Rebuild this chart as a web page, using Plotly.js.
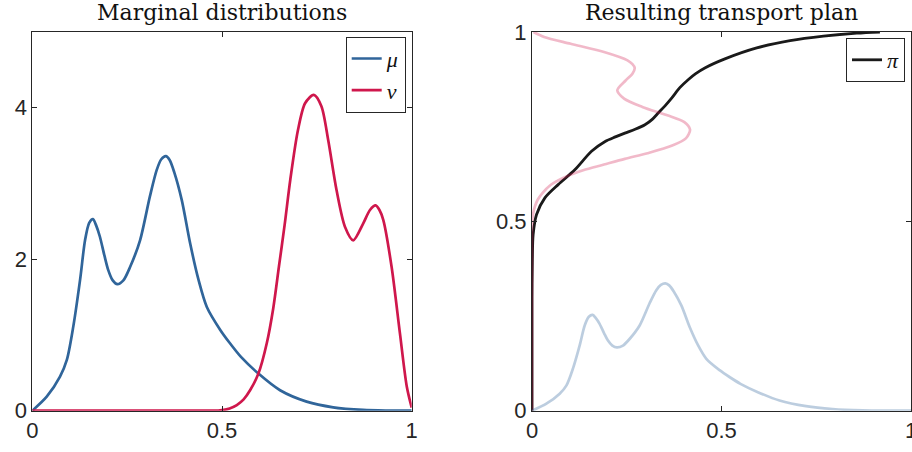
<!DOCTYPE html>
<html>
<head>
<meta charset="utf-8">
<script src="https://cdn.plot.ly/plotly-3.0.1.min.js"></script>
<style>html,body{margin:0;padding:0;background:#fff;}#chart{width:912px;height:452px;}</style>
</head>
<body>
<div id="chart"></div>
<script>
// Marginal density mu (blue)
const muX = [0, 0.038, 0.073, 0.091, 0.108, 0.126, 0.139, 0.150, 0.160, 0.168, 0.178, 0.190, 0.200, 0.212, 0.224, 0.240, 0.258, 0.284, 0.310, 0.328, 0.340, 0.352, 0.362, 0.374, 0.394, 0.416, 0.438, 0.460, 0.495, 0.521, 0.550, 0.596, 0.653, 0.723, 0.793, 0.872, 0.940, 1.000];
const muY = [0, 0.185, 0.45, 0.67, 1.11, 1.73, 2.25, 2.48, 2.53, 2.45, 2.30, 2.05, 1.86, 1.72, 1.67, 1.72, 1.90, 2.25, 2.83, 3.18, 3.32, 3.36, 3.31, 3.15, 2.78, 2.21, 1.73, 1.37, 1.07, 0.89, 0.71, 0.49, 0.27, 0.12, 0.045, 0.01, 0.002, 0];
// Marginal density nu (red)
const nuX = [0, 0.450, 0.495, 0.520, 0.539, 0.557, 0.574, 0.596, 0.618, 0.635, 0.650, 0.665, 0.680, 0.700, 0.719, 0.742, 0.762, 0.780, 0.802, 0.824, 0.846, 0.872, 0.890, 0.905, 0.915, 0.925, 0.947, 0.969, 0.987, 1.000];
const nuY = [0, 0, 0.005, 0.03, 0.075, 0.15, 0.27, 0.49, 0.89, 1.35, 1.90, 2.45, 3.05, 3.70, 4.06, 4.17, 4.02, 3.57, 2.91, 2.43, 2.25, 2.47, 2.65, 2.71, 2.65, 2.52, 1.90, 1.02, 0.32, 0.04];
// Transport plan pi (support of monotone map)
const piX = [0, 0, 0.001, 0.003, 0.012, 0.034, 0.069, 0.113, 0.157, 0.193, 0.220, 0.245, 0.272, 0.298, 0.318, 0.333, 0.351, 0.369, 0.390, 0.412, 0.432, 0.456, 0.509, 0.593, 0.681, 0.769, 0.857, 0.918];
const piY = [0, 0.30, 0.40, 0.465, 0.518, 0.562, 0.597, 0.636, 0.685, 0.711, 0.723, 0.733, 0.743, 0.755, 0.770, 0.786, 0.805, 0.826, 0.853, 0.874, 0.890, 0.905, 0.929, 0.958, 0.977, 0.989, 0.997, 1.000];
const xTicks = [0, 0.5, 1];
const xTickText = ['0', '0.5', '1'];
const yTicksL = [0, 2, 4];
const yTickTextL = ['0', '2', '4'];
const yTicksR = [0, 0.5, 1];
const yTickTextR = ['0', '0.5', '1'];
const marginScale = 10;

const blue = '#30659A';
const red = '#CF174C';

const traces = [
  {x: muX, y: muY, type: 'scatter', mode: 'lines', name: 'μ', line: {color: blue, width: 2.7, shape: 'spline', smoothing: 0.8}, xaxis: 'x', yaxis: 'y', legend: 'legend'},
  {x: nuX, y: nuY, type: 'scatter', mode: 'lines', name: 'ν', line: {color: red, width: 2.7, shape: 'spline', smoothing: 0.8}, xaxis: 'x', yaxis: 'y', legend: 'legend'},
  {x: piX, y: piY, type: 'scatter', mode: 'lines', name: 'π', line: {color: '#1a1a1a', width: 2.8, shape: 'spline', smoothing: 0.8}, xaxis: 'x2', yaxis: 'y2', legend: 'legend2'},
  {x: nuY.map(v => v / marginScale), y: nuX, type: 'scatter', mode: 'lines', showlegend: false, line: {color: 'rgba(207,23,76,0.3)', width: 2.7, shape: 'spline', smoothing: 0.8}, xaxis: 'x2', yaxis: 'y2'},
  {x: muX, y: muY.map(v => v / marginScale), type: 'scatter', mode: 'lines', showlegend: false, line: {color: 'rgba(48,101,154,0.32)', width: 2.7, shape: 'spline', smoothing: 0.8}, xaxis: 'x2', yaxis: 'y2'}
];

const tickFont = {family: 'Liberation Sans, Arial, sans-serif', size: 22, color: '#262626'};
const axBase = {showgrid: false, zeroline: false, showline: true, linecolor: '#262626', linewidth: 1, mirror: 'allticks', ticks: 'inside', ticklen: 5, tickcolor: '#262626', tickfont: tickFont, fixedrange: true, ticklabeloverflow: 'allow'};
const yBot = 1 - 410.7 / 452, yTop = 1 - 32 / 452;

const layout = {
  width: 912, height: 452,
  margin: {l: 0, r: 0, t: 0, b: 0},
  paper_bgcolor: '#fff', plot_bgcolor: '#fff',
  showlegend: true,
  xaxis: Object.assign({}, axBase, {domain: [32.3 / 912, 411.7 / 912], range: [0, 1], tickvals: xTicks, ticktext: xTickText, anchor: 'y'}),
  yaxis: Object.assign({}, axBase, {domain: [yBot, yTop], range: [0, 5], tickvals: yTicksL, ticktext: yTickTextL, anchor: 'x'}),
  xaxis2: Object.assign({}, axBase, {domain: [532 / 912, 911 / 912], range: [0, 1], tickvals: xTicks, ticktext: xTickText, anchor: 'y2'}),
  yaxis2: Object.assign({}, axBase, {domain: [yBot, yTop], range: [0, 1], tickvals: yTicksR, ticktext: yTickTextR, anchor: 'x2'}),
  legend: {x: 405.7 / 912, y: 1 - 36.7 / 452, xanchor: 'right', yanchor: 'top', bgcolor: '#fff', bordercolor: '#262626', borderwidth: 1, itemwidth: 30, font: {family: 'Liberation Serif, serif', size: 22, style: 'italic', color: '#111'}},
  legend2: {x: 905 / 912, y: 1 - 38 / 452, xanchor: 'right', yanchor: 'top', bgcolor: '#fff', bordercolor: '#262626', borderwidth: 1, itemwidth: 30, font: {family: 'Liberation Serif, serif', size: 22, style: 'italic', color: '#111'}},
  annotations: [
    {text: 'Marginal distributions', xref: 'paper', yref: 'paper', x: (32.3 + 411.7) / 2 / 912, y: 1 - 12 / 452, xanchor: 'center', yanchor: 'middle', showarrow: false, font: {family: 'DejaVu Serif, serif', size: 22, color: '#111'}},
    {text: 'Resulting transport plan', xref: 'paper', yref: 'paper', x: (532 + 911) / 2 / 912, y: 1 - 12 / 452, xanchor: 'center', yanchor: 'middle', showarrow: false, font: {family: 'DejaVu Serif, serif', size: 22, color: '#111'}}
  ]
};

Plotly.newPlot('chart', traces, layout, {displayModeBar: false, staticPlot: true});
</script>
</body>
</html>
